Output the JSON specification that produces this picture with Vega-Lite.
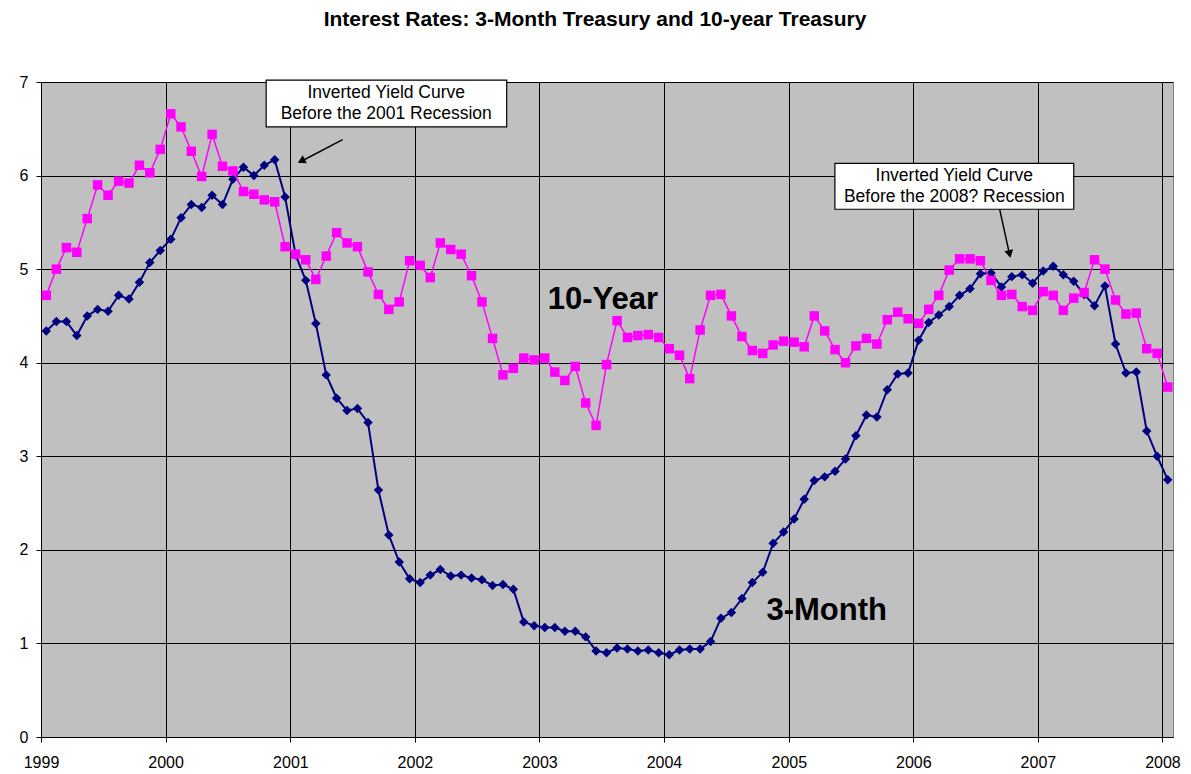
{
  "$schema": "https://vega.github.io/schema/vega-lite/v6.json",
  "width": 1132,
  "height": 655,
  "autosize": {"type": "none"},
  "padding": {"left": 41, "top": 82, "right": 18, "bottom": 37},
  "background": "white",
  "config": {
    "font": "Liberation Sans",
    "view": {"fill": "#C0C0C0", "stroke": "#808080", "strokeWidth": 1},
    "axis": {
      "labelFont": "Liberation Sans",
      "labelFontSize": 16,
      "labelColor": "black",
      "grid": true,
      "gridColor": "black",
      "gridOpacity": 1,
      "gridWidth": 1,
      "domainColor": "black",
      "tickColor": "black",
      "tickSize": 5,
      "title": null
    }
  },
  "title": {
    "text": "Interest Rates: 3-Month Treasury and 10-year Treasury",
    "font": "Liberation Sans",
    "fontSize": 21,
    "fontWeight": "bold",
    "color": "black",
    "anchor": "middle",
    "baseline": "alphabetic",
    "offset": 27,
    "dx": -12
  },
  "datasets": {
    "rates": [
      {"date": "1999-01-01", "m3": 4.34, "y10": 4.72},
      {"date": "1999-02-01", "m3": 4.44, "y10": 5.00},
      {"date": "1999-03-01", "m3": 4.44, "y10": 5.23},
      {"date": "1999-04-01", "m3": 4.29, "y10": 5.18},
      {"date": "1999-05-01", "m3": 4.50, "y10": 5.54},
      {"date": "1999-06-01", "m3": 4.57, "y10": 5.90},
      {"date": "1999-07-01", "m3": 4.55, "y10": 5.79},
      {"date": "1999-08-01", "m3": 4.72, "y10": 5.94},
      {"date": "1999-09-01", "m3": 4.68, "y10": 5.92},
      {"date": "1999-10-01", "m3": 4.86, "y10": 6.11},
      {"date": "1999-11-01", "m3": 5.07, "y10": 6.03},
      {"date": "1999-12-01", "m3": 5.20, "y10": 6.28},
      {"date": "2000-01-01", "m3": 5.32, "y10": 6.66},
      {"date": "2000-02-01", "m3": 5.55, "y10": 6.52},
      {"date": "2000-03-01", "m3": 5.69, "y10": 6.26},
      {"date": "2000-04-01", "m3": 5.66, "y10": 5.99},
      {"date": "2000-05-01", "m3": 5.79, "y10": 6.44},
      {"date": "2000-06-01", "m3": 5.69, "y10": 6.10},
      {"date": "2000-07-01", "m3": 5.96, "y10": 6.05},
      {"date": "2000-08-01", "m3": 6.09, "y10": 5.83},
      {"date": "2000-09-01", "m3": 6.00, "y10": 5.80},
      {"date": "2000-10-01", "m3": 6.11, "y10": 5.74},
      {"date": "2000-11-01", "m3": 6.17, "y10": 5.72},
      {"date": "2000-12-01", "m3": 5.77, "y10": 5.24},
      {"date": "2001-01-01", "m3": 5.15, "y10": 5.16},
      {"date": "2001-02-01", "m3": 4.88, "y10": 5.10},
      {"date": "2001-03-01", "m3": 4.42, "y10": 4.89},
      {"date": "2001-04-01", "m3": 3.87, "y10": 5.14},
      {"date": "2001-05-01", "m3": 3.62, "y10": 5.39},
      {"date": "2001-06-01", "m3": 3.49, "y10": 5.28},
      {"date": "2001-07-01", "m3": 3.51, "y10": 5.24},
      {"date": "2001-08-01", "m3": 3.36, "y10": 4.97},
      {"date": "2001-09-01", "m3": 2.64, "y10": 4.73},
      {"date": "2001-10-01", "m3": 2.16, "y10": 4.57},
      {"date": "2001-11-01", "m3": 1.87, "y10": 4.65},
      {"date": "2001-12-01", "m3": 1.69, "y10": 5.09},
      {"date": "2002-01-01", "m3": 1.65, "y10": 5.04},
      {"date": "2002-02-01", "m3": 1.73, "y10": 4.91},
      {"date": "2002-03-01", "m3": 1.79, "y10": 5.28},
      {"date": "2002-04-01", "m3": 1.72, "y10": 5.21},
      {"date": "2002-05-01", "m3": 1.73, "y10": 5.16},
      {"date": "2002-06-01", "m3": 1.70, "y10": 4.93},
      {"date": "2002-07-01", "m3": 1.68, "y10": 4.65},
      {"date": "2002-08-01", "m3": 1.62, "y10": 4.26},
      {"date": "2002-09-01", "m3": 1.63, "y10": 3.87},
      {"date": "2002-10-01", "m3": 1.58, "y10": 3.94},
      {"date": "2002-11-01", "m3": 1.23, "y10": 4.05},
      {"date": "2002-12-01", "m3": 1.19, "y10": 4.03},
      {"date": "2003-01-01", "m3": 1.17, "y10": 4.05},
      {"date": "2003-02-01", "m3": 1.17, "y10": 3.90},
      {"date": "2003-03-01", "m3": 1.13, "y10": 3.81},
      {"date": "2003-04-01", "m3": 1.13, "y10": 3.96},
      {"date": "2003-05-01", "m3": 1.07, "y10": 3.57},
      {"date": "2003-06-01", "m3": 0.92, "y10": 3.33},
      {"date": "2003-07-01", "m3": 0.90, "y10": 3.98},
      {"date": "2003-08-01", "m3": 0.95, "y10": 4.45},
      {"date": "2003-09-01", "m3": 0.94, "y10": 4.27},
      {"date": "2003-10-01", "m3": 0.92, "y10": 4.29},
      {"date": "2003-11-01", "m3": 0.93, "y10": 4.30},
      {"date": "2003-12-01", "m3": 0.90, "y10": 4.27},
      {"date": "2004-01-01", "m3": 0.88, "y10": 4.15},
      {"date": "2004-02-01", "m3": 0.93, "y10": 4.08},
      {"date": "2004-03-01", "m3": 0.94, "y10": 3.83},
      {"date": "2004-04-01", "m3": 0.94, "y10": 4.35},
      {"date": "2004-05-01", "m3": 1.02, "y10": 4.72},
      {"date": "2004-06-01", "m3": 1.27, "y10": 4.73},
      {"date": "2004-07-01", "m3": 1.33, "y10": 4.50},
      {"date": "2004-08-01", "m3": 1.48, "y10": 4.28},
      {"date": "2004-09-01", "m3": 1.65, "y10": 4.13},
      {"date": "2004-10-01", "m3": 1.76, "y10": 4.10},
      {"date": "2004-11-01", "m3": 2.07, "y10": 4.19},
      {"date": "2004-12-01", "m3": 2.19, "y10": 4.23},
      {"date": "2005-01-01", "m3": 2.33, "y10": 4.22},
      {"date": "2005-02-01", "m3": 2.54, "y10": 4.17},
      {"date": "2005-03-01", "m3": 2.74, "y10": 4.50},
      {"date": "2005-04-01", "m3": 2.78, "y10": 4.34},
      {"date": "2005-05-01", "m3": 2.84, "y10": 4.14},
      {"date": "2005-06-01", "m3": 2.97, "y10": 4.00},
      {"date": "2005-07-01", "m3": 3.22, "y10": 4.18},
      {"date": "2005-08-01", "m3": 3.44, "y10": 4.26},
      {"date": "2005-09-01", "m3": 3.42, "y10": 4.20},
      {"date": "2005-10-01", "m3": 3.71, "y10": 4.46},
      {"date": "2005-11-01", "m3": 3.88, "y10": 4.54},
      {"date": "2005-12-01", "m3": 3.89, "y10": 4.47},
      {"date": "2006-01-01", "m3": 4.24, "y10": 4.42},
      {"date": "2006-02-01", "m3": 4.43, "y10": 4.57},
      {"date": "2006-03-01", "m3": 4.51, "y10": 4.72},
      {"date": "2006-04-01", "m3": 4.60, "y10": 4.99},
      {"date": "2006-05-01", "m3": 4.72, "y10": 5.11},
      {"date": "2006-06-01", "m3": 4.79, "y10": 5.11},
      {"date": "2006-07-01", "m3": 4.95, "y10": 5.09},
      {"date": "2006-08-01", "m3": 4.96, "y10": 4.88},
      {"date": "2006-09-01", "m3": 4.81, "y10": 4.72},
      {"date": "2006-10-01", "m3": 4.92, "y10": 4.73},
      {"date": "2006-11-01", "m3": 4.94, "y10": 4.60},
      {"date": "2006-12-01", "m3": 4.85, "y10": 4.56},
      {"date": "2007-01-01", "m3": 4.98, "y10": 4.76},
      {"date": "2007-02-01", "m3": 5.03, "y10": 4.72},
      {"date": "2007-03-01", "m3": 4.94, "y10": 4.56},
      {"date": "2007-04-01", "m3": 4.87, "y10": 4.69},
      {"date": "2007-05-01", "m3": 4.73, "y10": 4.75},
      {"date": "2007-06-01", "m3": 4.61, "y10": 5.10},
      {"date": "2007-07-01", "m3": 4.82, "y10": 5.00},
      {"date": "2007-08-01", "m3": 4.20, "y10": 4.67},
      {"date": "2007-09-01", "m3": 3.89, "y10": 4.52},
      {"date": "2007-10-01", "m3": 3.90, "y10": 4.53},
      {"date": "2007-11-01", "m3": 3.27, "y10": 4.15},
      {"date": "2007-12-01", "m3": 3.00, "y10": 4.10},
      {"date": "2008-01-01", "m3": 2.75, "y10": 3.74}
    ],
    "boxes": [
      {"start": "2000-10-22", "end": "2002-09-27", "top": 7.02, "bottom": 6.52},
      {"start": "2005-05-16", "end": "2007-04-16", "top": 6.13, "bottom": 5.64}
    ],
    "boxText": [
      {"date": "2001-10-09", "value": 6.885, "label": "Inverted Yield Curve"},
      {"date": "2001-10-09", "value": 6.66, "label": "Before the 2001 Recession"},
      {"date": "2006-05-01", "value": 6.0, "label": "Inverted Yield Curve"},
      {"date": "2006-05-01", "value": 5.77, "label": "Before the 2008? Recession"}
    ],
    "arrows": [
      {"from": "2001-06-03", "fromValue": 6.384, "to": "2001-01-26", "toValue": 6.14},
      {"from": "2006-09-11", "fromValue": 5.638, "to": "2006-10-11", "toValue": 5.14}
    ],
    "seriesLabels": [
      {"date": "2003-07-06", "value": 4.577, "label": "10-Year"},
      {"date": "2005-04-22", "value": 1.246, "label": "3-Month"}
    ]
  },
  "layer": [
    {
      "data": {"name": "rates"},
      "mark": {"type": "line", "color": "#000080", "strokeWidth": 2,
               "point": {"shape": "diamond", "size": 90, "filled": true, "color": "#000080", "opacity": 1}},
      "encoding": {
        "x": {
          "field": "date", "type": "temporal", "timeUnit": "utcyearmonth", "bandPosition": 0.5,
          "scale": {"type": "utc",
                    "domain": [{"year": 1999, "month": 1, "date": 1, "utc": true},
                               {"year": 2008, "month": 2, "date": 1, "utc": true}]},
          "axis": {
            "values": [
              {"year": 1999, "month": 1, "date": 1, "utc": true},
              {"year": 2000, "month": 1, "date": 1, "utc": true},
              {"year": 2001, "month": 1, "date": 1, "utc": true},
              {"year": 2002, "month": 1, "date": 1, "utc": true},
              {"year": 2003, "month": 1, "date": 1, "utc": true},
              {"year": 2004, "month": 1, "date": 1, "utc": true},
              {"year": 2005, "month": 1, "date": 1, "utc": true},
              {"year": 2006, "month": 1, "date": 1, "utc": true},
              {"year": 2007, "month": 1, "date": 1, "utc": true},
              {"year": 2008, "month": 1, "date": 1, "utc": true}
            ],
            "labelExpr": "utcFormat(datum.value, '%Y')",
            "labelPadding": 12,
            "labelAngle": 0,
            "labelFlush": false,
            "labelOverlap": false
          }
        },
        "y": {
          "field": "m3", "type": "quantitative",
          "scale": {"domain": [0, 7], "nice": false, "zero": true},
          "axis": {"values": [0, 1, 2, 3, 4, 5, 6, 7], "format": "d", "labelPadding": 8}
        }
      }
    },
    {
      "data": {"name": "rates"},
      "mark": {"type": "line", "color": "#FF00FF", "strokeWidth": 1.5,
               "point": {"shape": "square", "size": 90, "filled": true, "color": "#FF00FF", "opacity": 1}},
      "encoding": {
        "x": {"field": "date", "type": "temporal", "timeUnit": "utcyearmonth", "bandPosition": 0.5, "scale": {"type": "utc"}},
        "y": {"field": "y10", "type": "quantitative"}
      }
    },
    {
      "data": {"name": "boxes"},
      "mark": {"type": "rect", "fill": "white", "stroke": "black", "strokeWidth": 1.2},
      "encoding": {
        "x": {"field": "start", "type": "temporal", "scale": {"type": "utc"}},
        "x2": {"field": "end"},
        "y": {"field": "top", "type": "quantitative"},
        "y2": {"field": "bottom"}
      }
    },
    {
      "data": {"name": "boxText"},
      "mark": {"type": "text", "font": "Liberation Sans", "fontSize": 17.5, "color": "black", "align": "center", "baseline": "middle"},
      "encoding": {
        "x": {"field": "date", "type": "temporal", "scale": {"type": "utc"}},
        "y": {"field": "value", "type": "quantitative"},
        "text": {"field": "label"}
      }
    },
    {
      "data": {"name": "arrows"},
      "mark": {"type": "rule", "color": "black", "strokeWidth": 1.5},
      "encoding": {
        "x": {"field": "from", "type": "temporal", "scale": {"type": "utc"}},
        "x2": {"field": "to"},
        "y": {"field": "fromValue", "type": "quantitative"},
        "y2": {"field": "toValue"}
      }
    },
    {
      "data": {"values": [{"date": "2001-02-02", "value": 6.155}]},
      "mark": {"type": "point", "shape": "triangle-up", "size": 80, "filled": true, "color": "black", "opacity": 1, "angle": 242.6},
      "encoding": {
        "x": {"field": "date", "type": "temporal", "scale": {"type": "utc"}},
        "y": {"field": "value", "type": "quantitative"}
      }
    },
    {
      "data": {"values": [{"date": "2006-10-10", "value": 5.161}]},
      "mark": {"type": "point", "shape": "triangle-up", "size": 80, "filled": true, "color": "black", "opacity": 1, "angle": 167.5},
      "encoding": {
        "x": {"field": "date", "type": "temporal", "scale": {"type": "utc"}},
        "y": {"field": "value", "type": "quantitative"}
      }
    },
    {
      "data": {"name": "seriesLabels"},
      "mark": {"type": "text", "font": "Liberation Sans", "fontSize": 31, "fontWeight": "bold", "color": "black", "align": "center", "baseline": "alphabetic"},
      "encoding": {
        "x": {"field": "date", "type": "temporal", "scale": {"type": "utc"}},
        "y": {"field": "value", "type": "quantitative"},
        "text": {"field": "label"}
      }
    }
  ]
}
